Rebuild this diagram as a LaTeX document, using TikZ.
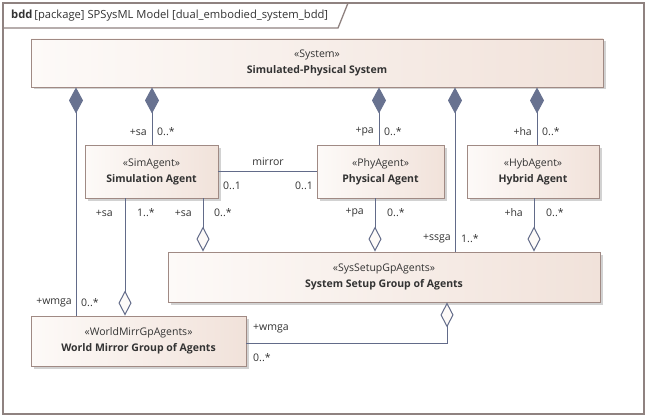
\documentclass[tikz,border=0pt]{standalone}
\usepackage{fontspec}
\setmainfont{Open Sans}
\usetikzlibrary{arrows.meta,shadows,calc}
\definecolor{boxL}{HTML}{FDFAF8}
\definecolor{boxR}{HTML}{F1E2DA}
\definecolor{boxD}{HTML}{A08A84}
\definecolor{lnC}{HTML}{626B89}
\definecolor{dmC}{HTML}{687290}
\definecolor{txC}{HTML}{333333}
\definecolor{frC}{HTML}{8F8280}
\begin{document}
\begin{tikzpicture}[x=1pt,y=-1pt,
  block/.style={draw=boxD, line width=0.9pt, left color=boxL, right color=boxR,
    drop shadow={shadow xshift=2.5pt,shadow yshift=-2.5pt,fill=black!35,opacity=0.5},
    inner sep=0pt, align=center, text=txC, font=\fontsize{10.5}{16}\selectfont},
  lbl/.style={inner sep=0pt, text=txC, font=\fontsize{10.5}{12}\selectfont},
  conn/.style={draw=lnC, line width=1pt},
  comp/.style={conn, -{Diamond[length=26pt,width=14pt,color=dmC,fill=dmC]}},
  agg/.style={conn, -{Diamond[length=25pt,width=13pt,fill=boxL]}}]
\useasboundingbox (0,0) rectangle (647,417);
\fill[white] (0,0) rectangle (647,417);
% frame
\draw[frC, line width=1.3pt] (3,3) rectangle (644,414);
\draw[frC, line width=1.3pt] (3,28) -- (338,28) -- (348,3);
\node[lbl, anchor=west, font=\fontsize{11.2}{13}\selectfont] (hdr) at (11,16) {\textbf{bdd}\,[package] SPSysML Model [dual\_embodied\_system\_bdd]};

% blocks
\node[block, minimum width=572pt, minimum height=48pt] (sys) at (317,63) {«System»\\\textbf{Simulated-Physical System}};
\node[block, minimum width=133pt, minimum height=53pt] (sim) at (151.5,171.5) {«SimAgent»\\\textbf{Simulation Agent}};
\node[block, minimum width=127pt, minimum height=53pt] (phy) at (380.5,171.5) {«PhyAgent»\\\textbf{Physical Agent}};
\node[block, minimum width=132pt, minimum height=53pt] (hyb) at (533,171.5) {«HybAgent»\\\textbf{Hybrid Agent}};
\node[block, minimum width=432pt, minimum height=50pt] (sss) at (384,277) {«SysSetupGpAgents»\\\textbf{System Setup Group of Agents}};
\node[block, minimum width=215pt, minimum height=50pt] (wm) at (138.5,341) {«WorldMirrGpAgents»\\\textbf{World Mirror Group of Agents}};

% x positions
\coordinate (x76) at (76,0);
\coordinate (x152) at (152,0);
\coordinate (x379) at (379,0);
\coordinate (x455) at (455,0);
\coordinate (x537) at (537,0);
\coordinate (x125) at (125,0);
\coordinate (x203) at (203,0);
\coordinate (x375) at (375,0);
\coordinate (x534) at (534,0);
\coordinate (x447) at (447,0);

% compositions
\draw[comp] (wm.north -| x76) -- (sys.south -| x76);
\draw[comp] (sim.north -| x152) -- (sys.south -| x152);
\draw[comp] (phy.north -| x379) -- (sys.south -| x379);
\draw[comp] (sss.north -| x455) -- (sys.south -| x455);
\draw[comp] (hyb.north -| x537) -- (sys.south -| x537);
% aggregations
\draw[agg] (sim.south -| x125) -- (wm.north -| x125);
\draw[agg] (sim.south -| x203) -- (sss.north -| x203);
\draw[agg] (phy.south -| x375) -- (sss.north -| x375);
\draw[agg] (hyb.south -| x534) -- (sss.north -| x534);
\coordinate (wmr) at ($(wm.east)+(0,2)$);
\draw[agg] (wmr) -- (wmr -| x447) -- (sss.south -| x447);
% association
\draw[conn] (sim.east) -- (phy.west);

% labels
\node[lbl, anchor=east] (a1) at (147,132) {+sa};
\node[lbl, anchor=west] (a2) at (157,132) {0..*};
\node[lbl, anchor=east] (a3) at (374,132) {+pa};
\node[lbl, anchor=west] (a4) at (384,132) {0..*};
\node[lbl, anchor=east] (a5) at (532,132) {+ha};
\node[lbl, anchor=west] (a6) at (542,132) {0..*};

\node[lbl, anchor=east] (b1) at (113,213) {+sa};
\node[lbl, anchor=west] (b2) at (137,213) {1..*};
\node[lbl, anchor=east] (b3) at (192,213) {+sa};
\node[lbl, anchor=west] (b4) at (214,213) {0..*};
\node[lbl, anchor=east] (b5) at (364,213) {+pa};
\node[lbl, anchor=west] (b6) at (387,213) {0..*};
\node[lbl, anchor=east] (b7) at (523,213) {+ha};
\node[lbl, anchor=west] (b8) at (546,213) {0..*};

\node[lbl, anchor=east] (c1) at (451,239) {+ssga};
\node[lbl, anchor=west] (c2) at (461,239) {1..*};

\node[lbl, anchor=east] (d1) at (72,303) {+wmga};
\node[lbl, anchor=west] (d2) at (81,303) {0..*};

\node[lbl, anchor=west] (e1) at (253,329) {+wmga};
\node[lbl, anchor=west] (e2) at (253,358) {0..*};

\node[lbl] (m1) at (268,162) {mirror};
\node[lbl, anchor=west] (m2) at (223,186) {0..1};
\node[lbl, anchor=east] (m3) at (313,186) {0..1};
\end{tikzpicture}
\end{document}
